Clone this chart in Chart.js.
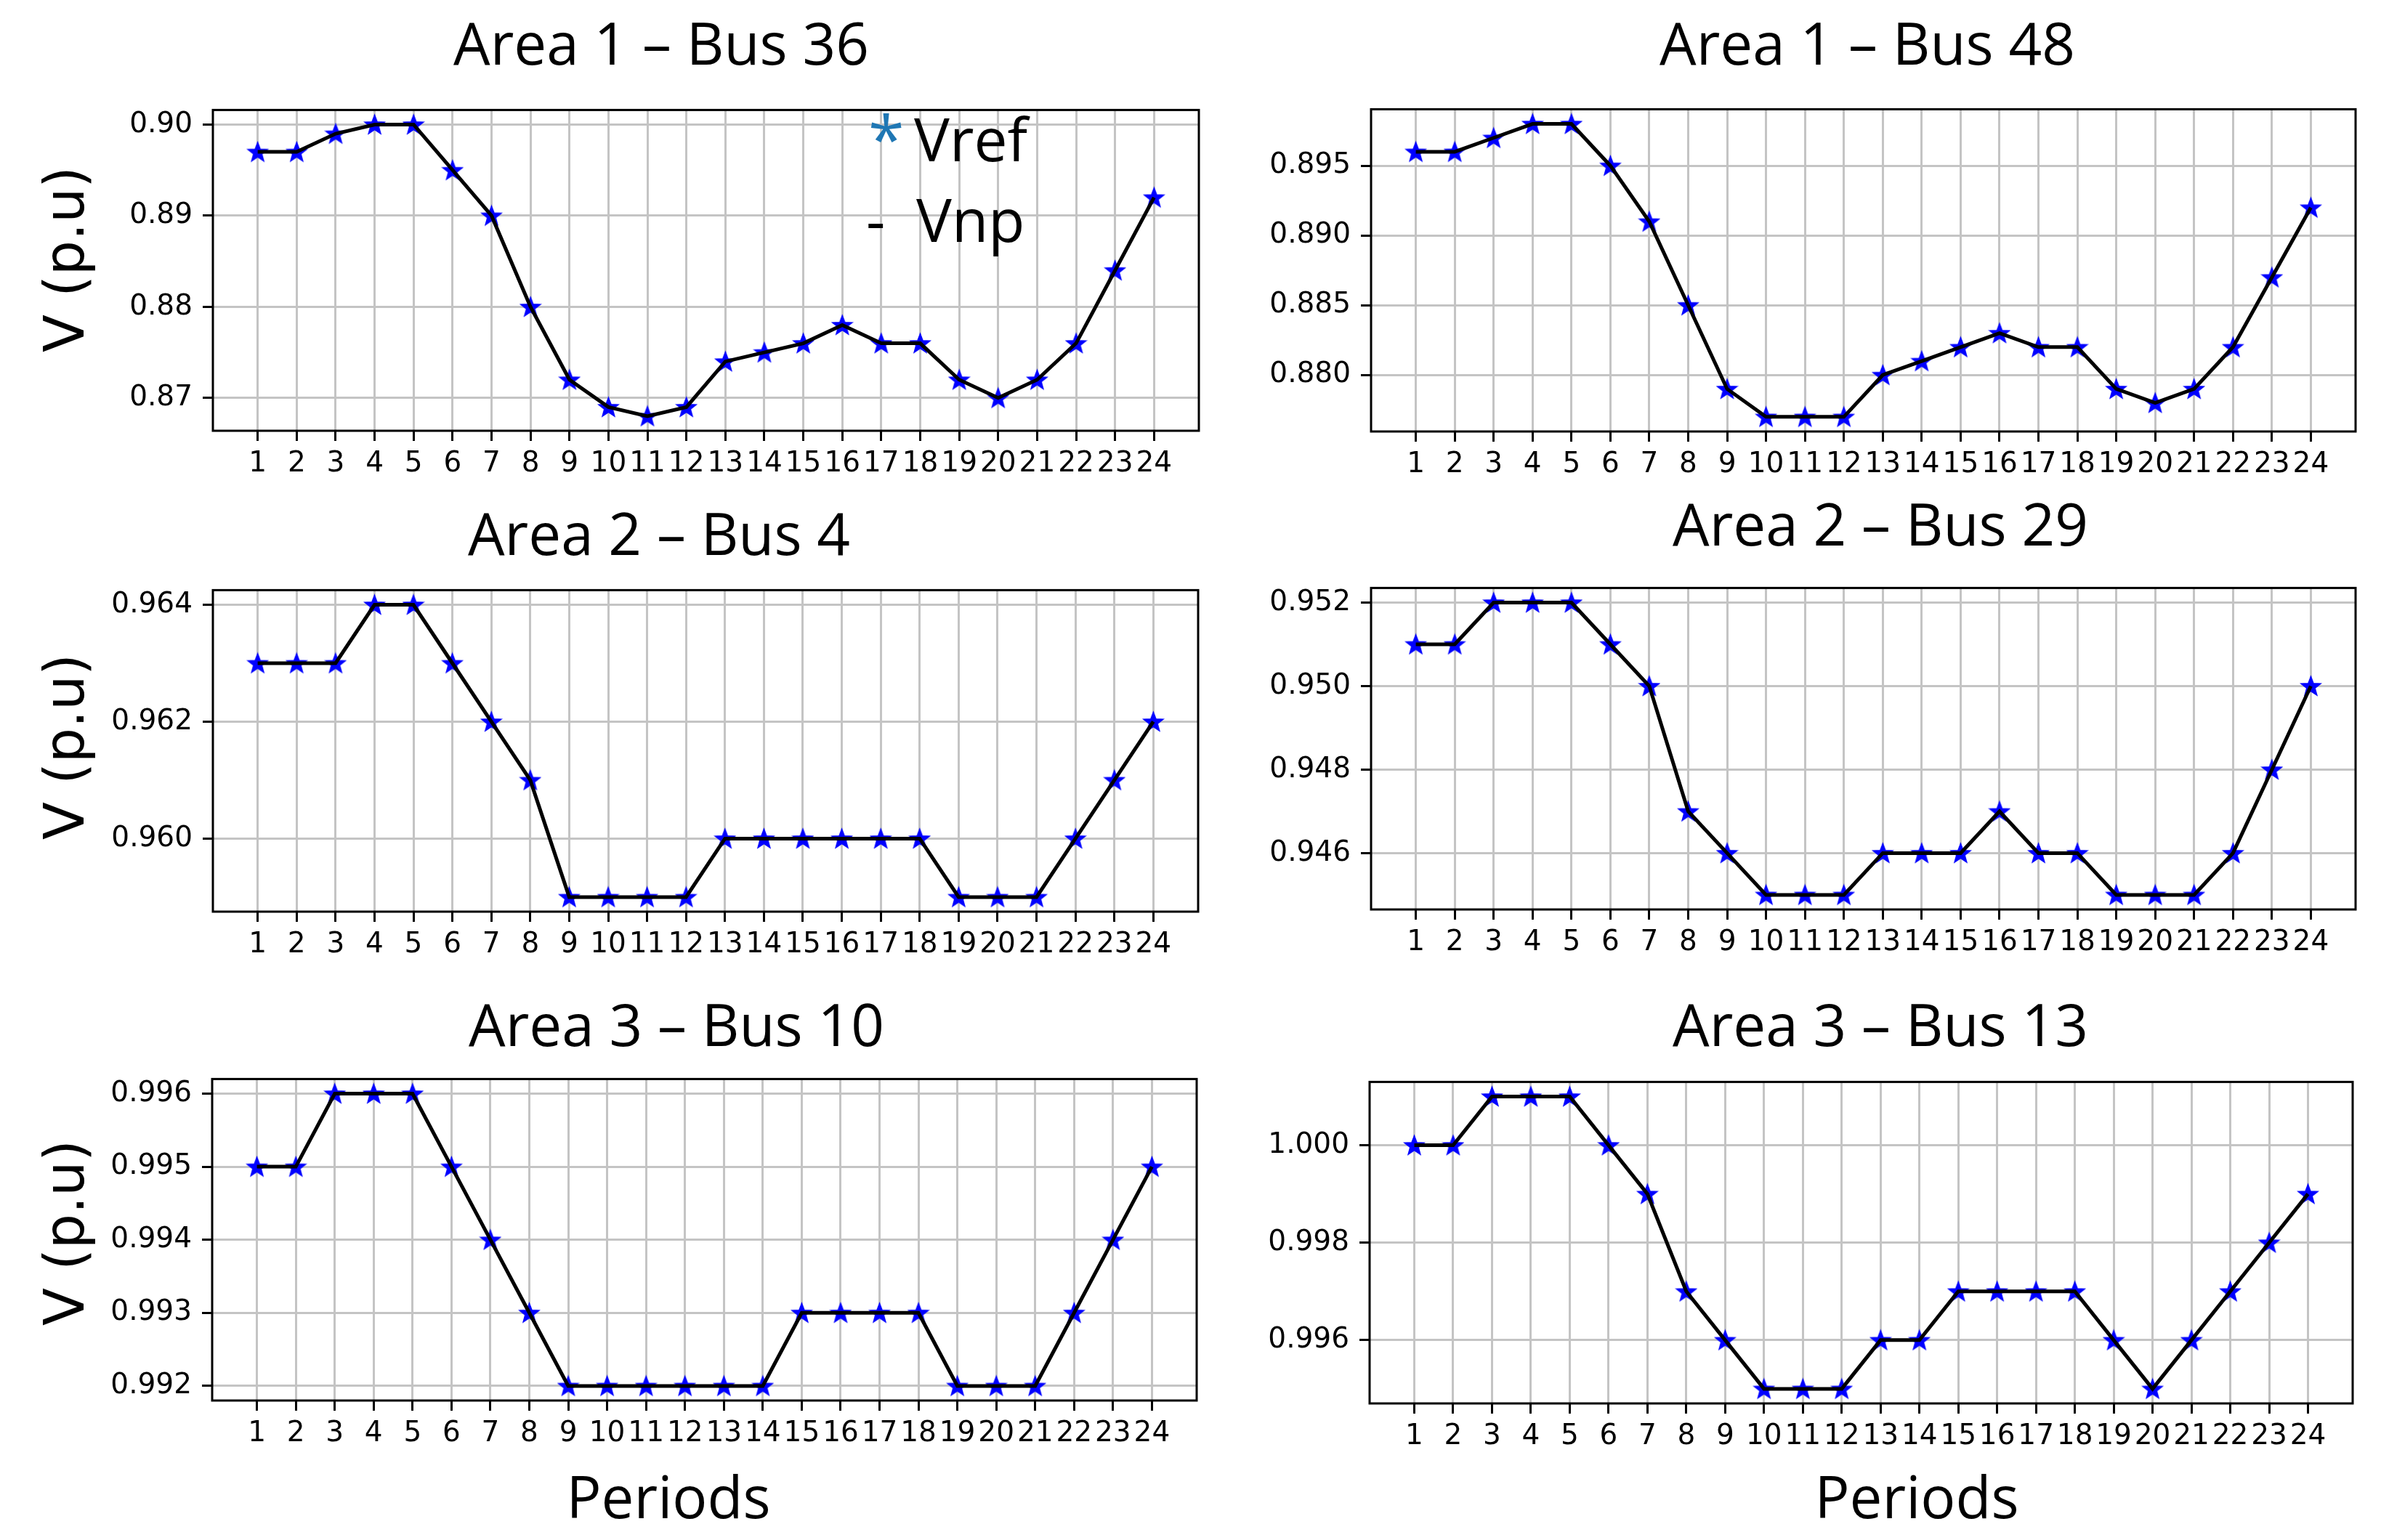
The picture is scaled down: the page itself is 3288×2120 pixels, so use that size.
<!DOCTYPE html>
<html><head><meta charset="utf-8">
<script src="https://cdn.jsdelivr.net/npm/chart.js@4.4.0/dist/chart.umd.min.js"></script>
<style>
html,body{margin:0;padding:0;background:#fff;}
#root{position:relative;width:3288px;height:2120px;overflow:hidden;background:#fff;}
#root canvas{position:absolute;}
.t{position:absolute;white-space:nowrap;line-height:1;font-family:'Open Sans',sans-serif;color:#000;}
.yl{position:absolute;white-space:nowrap;line-height:1;font-family:'DejaVu Sans',sans-serif;font-size:76px;color:#000;transform:translate(-50%,-50%) rotate(-90deg);}
</style></head><body><div id="root"></div>
<script>
// ---------------- data ----------------
const periods = [1,2,3,4,5,6,7,8,9,10,11,12,13,14,15,16,17,18,19,20,21,22,23,24];
const periodLabels = ['1','2','3','4','5','6','7','8','9','10','11','12','13','14','15','16','17','18','19','20','21','22','23','24'];

const area1Bus36 = [0.897,0.897,0.899,0.900,0.900,0.895,0.890,0.880,0.872,0.869,0.868,0.869,0.874,0.875,0.876,0.878,0.876,0.876,0.872,0.870,0.872,0.876,0.884,0.892];
const area1Bus48 = [0.896,0.896,0.897,0.898,0.898,0.895,0.891,0.885,0.879,0.877,0.877,0.877,0.880,0.881,0.882,0.883,0.882,0.882,0.879,0.878,0.879,0.882,0.887,0.892];
const area2Bus4  = [0.963,0.963,0.963,0.964,0.964,0.963,0.962,0.961,0.959,0.959,0.959,0.959,0.960,0.960,0.960,0.960,0.960,0.960,0.959,0.959,0.959,0.960,0.961,0.962];
const area2Bus29 = [0.951,0.951,0.952,0.952,0.952,0.951,0.950,0.947,0.946,0.945,0.945,0.945,0.946,0.946,0.946,0.947,0.946,0.946,0.945,0.945,0.945,0.946,0.948,0.950];
const area3Bus10 = [0.995,0.995,0.996,0.996,0.996,0.995,0.994,0.993,0.992,0.992,0.992,0.992,0.992,0.992,0.993,0.993,0.993,0.993,0.992,0.992,0.992,0.993,0.994,0.995];
const area3Bus13 = [1.000,1.000,1.001,1.001,1.001,1.000,0.999,0.997,0.996,0.995,0.995,0.995,0.996,0.996,0.997,0.997,0.997,0.997,0.996,0.995,0.996,0.997,0.998,0.999];

const yTicksBus36 = ['0.87','0.88','0.89','0.90'];
const yTicksBus48 = ['0.880','0.885','0.890','0.895'];
const yTicksBus4  = ['0.960','0.962','0.964'];
const yTicksBus29 = ['0.946','0.948','0.950','0.952'];
const yTicksBus10 = ['0.992','0.993','0.994','0.995','0.996'];
const yTicksBus13 = ['0.996','0.998','1.000'];

const panelTitles = ['Area 1 – Bus 36','Area 1 – Bus 48','Area 2 – Bus 4','Area 2 – Bus 29','Area 3 – Bus 10','Area 3 – Bus 13'];
const yAxisLabel = 'V (p.u)';
const xAxisLabel = 'Periods';
const legendLabels = ['Vref','Vnp'];

// ---------------- layout (pixels) ----------------
const panelSeries = [area1Bus36, area1Bus48, area2Bus4, area2Bus29, area3Bus10, area3Bus13];
const panelTicks = [yTicksBus36, yTicksBus48, yTicksBus4, yTicksBus29, yTicksBus10, yTicksBus13];
const boxes = [
  {l:293, t:144, r:1650, b:593, tcx:910,  tb:89},
  {l:1887,t:143, r:3242, b:594, tcx:2570, tb:89},
  {l:293, t:805, r:1649, b:1255,tcx:907,  tb:764},
  {l:1887,t:802, r:3242, b:1252,tcx:2588, tb:751},
  {l:292, t:1478,r:1647, b:1928,tcx:931,  tb:1440},
  {l:1885,t:1482,r:3238, b:1932,tcx:2588, tb:1440}
];
const yLabelPos = [{cx:89,cy:357},{cx:89,cy:1028},{cx:89,cy:1697}];
const xLabelPos = [{cx:920,b:2090},{cx:2638,b:2090}];

const root = document.getElementById('root');
const OS_BASE = 0.888; // Open Sans baseline offset (line-height 1)

function addText(txt, size, x, baseline, center, color){
  const d = document.createElement('div');
  d.className = 't';
  d.textContent = txt;
  d.style.fontSize = size + 'px';
  d.style.top = (baseline - OS_BASE*size) + 'px';
  d.style.left = x + 'px';
  if (center) d.style.transform = 'translateX(-50%)';
  if (color) d.style.color = color;
  root.appendChild(d);
  return d;
}

function makeStar(r, color){
  const s = Math.ceil(r*2 + 4);
  const c = document.createElement('canvas');
  c.width = s; c.height = s;
  const g = c.getContext('2d');
  g.fillStyle = color; g.strokeStyle = color; g.lineWidth = 2;
  g.beginPath();
  for (let k = 0; k < 10; k++){
    const ang = -Math.PI/2 + k*Math.PI/5;
    const rr = (k % 2 === 0) ? r : r*0.42;
    g.lineTo(s/2 + rr*Math.cos(ang), s/2 + 1 + rr*Math.sin(ang));
  }
  g.closePath(); g.fill(); g.stroke();
  return c;
}
const starImg = makeStar(13.5, '#0000ff');

const framePlugin = {
  id:'frame',
  afterDraw(c){
    const a = c.chartArea, ctx = c.ctx;
    ctx.save();
    ctx.strokeStyle = '#000'; ctx.lineWidth = 3;
    ctx.strokeRect(a.left, a.top, a.right - a.left, a.bottom - a.top);
    ctx.restore();
  }
};

Chart.defaults.font.family = "'DejaVu Sans', sans-serif";

const L = 200, T = 30, R = 30, B = 90;
const tickFont = {family:"'DejaVu Sans', sans-serif", size:39};

panelSeries.forEach((vals, idx) => {
  const bx = boxes[idx];
  const pw = bx.r - bx.l, ph = bx.b - bx.t;
  const cv = document.createElement('canvas');
  cv.width = pw + L + R; cv.height = ph + T + B;
  cv.style.left = (bx.l - L) + 'px';
  cv.style.top = (bx.t - T) + 'px';
  cv.style.width = cv.width + 'px'; cv.style.height = cv.height + 'px';
  root.appendChild(cv);

  const pts = vals.map((v, i) => ({x: periods[i], y: v}));
  const vmin = Math.min(...vals), vmax = Math.max(...vals);
  const ym = (vmax - vmin) * 0.05;
  const xm = (periods[periods.length-1] - periods[0]) * 0.05;
  const tickLabels = panelTicks[idx];

  new Chart(cv, {
    type:'line',
    data:{datasets:[
      {label:legendLabels[1], data:pts, showLine:true, borderColor:'#000', borderWidth:5, pointRadius:0, tension:0, order:1, fill:false},
      {label:legendLabels[0], data:pts, showLine:false, pointStyle:starImg, pointRadius:13, order:2}
    ]},
    options:{
      responsive:false, animation:false, events:[], devicePixelRatio:1,
      layout:{padding:{left:0, top:T, right:R, bottom:0}},
      plugins:{legend:{display:false}, tooltip:{enabled:false}, title:{display:false}},
      scales:{
        x:{
          type:'linear', min:periods[0]-xm, max:periods[periods.length-1]+xm,
          afterFit:(s)=>{ s.height = B; },
          afterBuildTicks:(s)=>{ s.ticks = periods.map(v => ({value:v})); },
          ticks:{autoSkip:false, maxRotation:0, minRotation:0, padding:8, color:'#000', font:tickFont,
                 callback:(v, i) => periodLabels[i]},
          grid:{color:'#c4c4c4', lineWidth:3, tickColor:'#000', tickWidth:3, tickLength:14, drawTicks:true},
          border:{display:false}
        },
        y:{
          type:'linear', min:vmin - ym, max:vmax + ym,
          afterFit:(s)=>{ s.width = L; },
          afterBuildTicks:(s)=>{ s.ticks = tickLabels.map(t => ({value:parseFloat(t)})); },
          ticks:{autoSkip:false, padding:14, color:'#000', font:tickFont,
                 callback:(v, i) => tickLabels[i]},
          grid:{color:'#c4c4c4', lineWidth:3, tickColor:'#000', tickWidth:3, tickLength:14, drawTicks:true},
          border:{display:false}
        }
      }
    },
    plugins:[framePlugin]
  });

  addText(panelTitles[idx], 80, bx.tcx, bx.tb, true);
});

// y-axis labels (left column)
yLabelPos.forEach(p => {
  const d = document.createElement('div');
  d.className = 'yl';
  d.textContent = yAxisLabel;
  d.style.left = p.cx + 'px';
  d.style.top = p.cy + 'px';
  root.appendChild(d);
});

// x-axis labels (bottom row)
xLabelPos.forEach(p => addText(xAxisLabel, 80, p.cx, p.b, true));

// legend (first panel)
addText('*', 90, 1195, 224, false, '#1f77b4');
addText(legendLabels[0], 82, 1258, 222, false);
addText('-', 82, 1192, 333, false);
addText(legendLabels[1], 82, 1261, 333, false);
</script>
</body></html>
